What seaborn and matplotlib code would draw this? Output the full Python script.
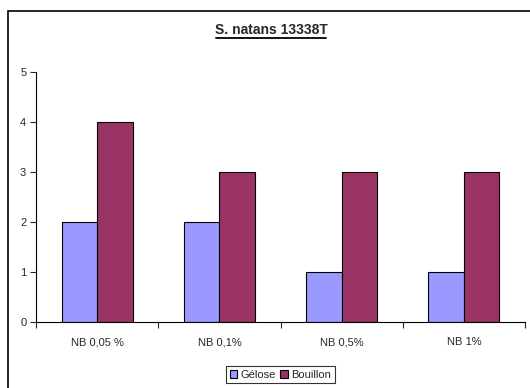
import matplotlib
matplotlib.use("Agg")
import matplotlib.pyplot as plt
import seaborn as sns
import pandas as pd
from matplotlib.patches import Rectangle

categories = ["NB 0,05 %", "NB 0,1%", "NB 0,5%", "NB 1%"]
gelose = [2, 2, 1, 1]
bouillon = [4, 3, 3, 3]
series_names = ["Gélose", "Bouillon"]
colors = ["#9999FF", "#993366"]

df = pd.DataFrame({
    "cat": categories * 2,
    "val": gelose + bouillon,
    "serie": [series_names[0]] * 4 + [series_names[1]] * 4,
})

sns.set_theme(style="white")
plt.rcParams["font.family"] = ["Liberation Sans", "DejaVu Sans"]

W, H = 530, 388
fig = plt.figure(figsize=(W / 100, H / 100), dpi=100)
ax = fig.add_axes([36 / W, 1 - 322 / H, (525 - 36) / W, (322 - 72) / H])

sns.barplot(data=df, x="cat", y="val", hue="serie", order=categories,
            hue_order=series_names, palette=colors, saturation=1, width=0.58,
            edgecolor="black", linewidth=0.8, ax=ax, legend=True)

ax.set_ylim(0, 5)
ax.set_xlim(-0.5, 3.5)
ax.set_yticks(range(6))
ax.set_xticks([-0.5, 0.5, 1.5, 2.5, 3.5], minor=True)
ax.set_xlabel("")
ax.set_ylabel("")
for s in ["top", "right"]:
    ax.spines[s].set_visible(False)
for s in ["left", "bottom"]:
    ax.spines[s].set_color("black")
    ax.spines[s].set_linewidth(0.8)
ax.tick_params(axis="y", left=True, length=4, width=0.8, labelsize=8, pad=3)
ax.tick_params(axis="x", which="major", bottom=False, labelsize=8, pad=5)
ax.tick_params(axis="x", which="minor", bottom=True, length=4, width=0.8)

# title centred on the chart frame, with an underline
title = fig.text(271 / W, 1 - 30 / H, "S. natans 13338T", fontsize=10,
                 fontweight="bold", ha="center", va="center")
fig.canvas.draw()
bb = title.get_window_extent()
inv = fig.transFigure.inverted()
(x0, y0), (x1, y1) = inv.transform([(bb.x0, bb.y0), (bb.x1, bb.y1)])
fig.add_artist(plt.Line2D([x0 + 0.002, x1 - 0.002], [1 - 37.5 / H] * 2,
                          color="black", lw=1.3, transform=fig.transFigure))

leg = ax.legend(loc="center", bbox_to_anchor=(0.5, (322 - 374.5) / 250),
                ncol=2, fontsize=8, frameon=True, fancybox=False,
                handlelength=0.7, handleheight=0.7, handletextpad=0.3,
                columnspacing=0.4, borderpad=0.35, borderaxespad=0)
leg.get_frame().set_edgecolor("black")
leg.get_frame().set_linewidth(0.8)

# outer chart frame
fig.add_artist(Rectangle((8 / W, -0.1), 1.2, 1 - 11 / H + 0.1,
                         transform=fig.transFigure, fill=False,
                         edgecolor="black", lw=1.2))

fig.savefig("out.png", dpi=100)
